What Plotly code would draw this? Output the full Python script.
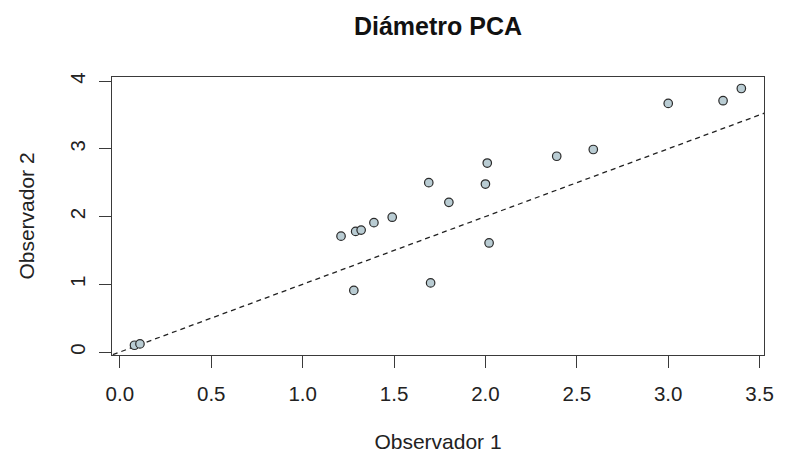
import plotly.graph_objects as go

# Diámetro PCA measured by two observers
observador_1 = [0.08, 0.11, 1.21, 1.29, 1.32, 1.39, 1.49, 1.28, 1.69, 1.70,
                1.80, 2.01, 2.00, 2.02, 2.39, 2.59, 3.00, 3.30, 3.40]
observador_2 = [0.10, 0.12, 1.71, 1.78, 1.80, 1.91, 1.99, 0.91, 2.50, 1.02,
                2.21, 2.79, 2.48, 1.61, 2.89, 2.99, 3.67, 3.71, 3.89]

# identity line (perfect agreement), extended past the axis range and clipped
identity = [-0.5, 4.5]

x_range = [-0.043, 3.524]
y_range = [-0.044, 4.06]
x_ticks = [0.0, 0.5, 1.0, 1.5, 2.0, 2.5, 3.0, 3.5]
y_ticks = [0, 1, 2, 3, 4]

font_family = "Liberation Sans, Arial, sans-serif"

fig = go.Figure()
fig.add_trace(go.Scatter(
    x=identity, y=identity, mode="lines",
    line=dict(color="#222222", width=1.3, dash="5px,4px"),
    hoverinfo="skip", showlegend=False,
))
fig.add_trace(go.Scatter(
    x=observador_1, y=observador_2, mode="markers",
    marker=dict(size=8.5, color="#b9ccd3",
                line=dict(color="#2a2a2a", width=1.2)),
    showlegend=False, cliponaxis=False,
))

axis_common = dict(
    showgrid=False, zeroline=False,
    showline=True, linecolor="#3a3a3a", linewidth=1.3, mirror=True,
    ticks="outside", ticklen=12, tickwidth=1.2, tickcolor="#3a3a3a",
    tickfont=dict(family=font_family, size=20.5, color="#222222"),
)

fig.update_layout(
    width=786, height=461,
    margin=dict(l=112, r=14, t=77, b=105),
    paper_bgcolor="white", plot_bgcolor="white",
    title=dict(text="<b>Diámetro PCA</b>", x=0.5, xref="paper",
               y=1 - 26 / 461, yref="container", yanchor="middle",
               font=dict(family=font_family, size=25, color="#111111")),
    xaxis=dict(axis_common, range=x_range, tickvals=x_ticks,
               tickformat=".1f", ticklabelstandoff=8,
               title=dict(text="Observador 1", standoff=30,
                          font=dict(family=font_family, size=21,
                                    color="#222222"))),
    yaxis=dict(axis_common, range=y_range, tickvals=y_ticks,
               tickangle=-90, ticklabelstandoff=6,
               title=dict(text="Observador 2", standoff=25,
                          font=dict(family=font_family, size=21,
                                    color="#222222"))),
)

fig.write_html("out.html")
